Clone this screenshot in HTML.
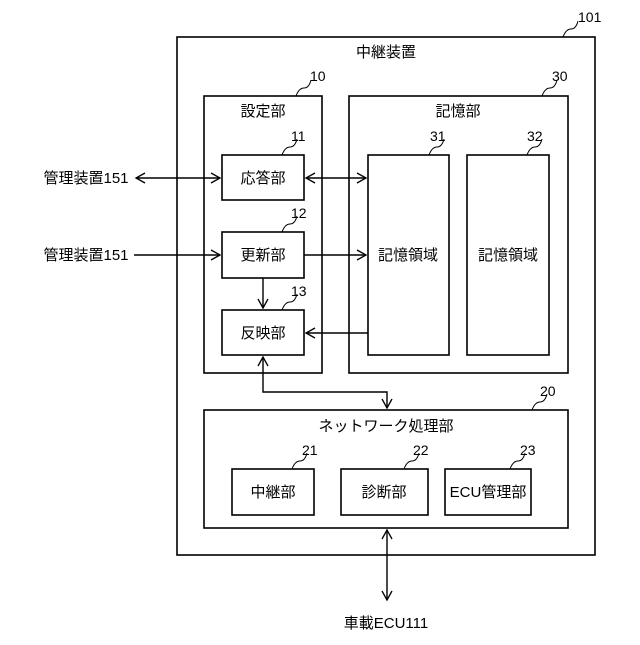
<!DOCTYPE html><html><head><meta charset="utf-8"><style>body{margin:0;background:#fff}</style></head><body>
<svg width="640" height="640" xmlns="http://www.w3.org/2000/svg" font-family="Liberation Sans, Noto Sans CJK JP, sans-serif" font-size="14">
<defs><marker id="a" markerWidth="12" markerHeight="12" refX="10" refY="6" orient="auto-start-reverse" markerUnits="userSpaceOnUse"><path d="M1,1 L10,6 L1,11" fill="none" stroke="#000" stroke-width="1.3"/></marker></defs>
<g fill="none" stroke="#000" stroke-width="1.6">
<rect x="177" y="37" width="418" height="518"/>
<rect x="204" y="96" width="118" height="277"/>
<rect x="222" y="155" width="82" height="45"/>
<rect x="222" y="232" width="82" height="46"/>
<rect x="222" y="310" width="82" height="45"/>
<rect x="349" y="96" width="219" height="277"/>
<rect x="368" y="155" width="81" height="200"/>
<rect x="467" y="155" width="82" height="200"/>
<rect x="204" y="410" width="364" height="118"/>
<rect x="232" y="469" width="82" height="46"/>
<rect x="341" y="469" width="87" height="46"/>
<rect x="445" y="469" width="86" height="46"/>
</g>
<g fill="none" stroke="#000" stroke-width="1.4">
<line x1="136" y1="178" x2="220" y2="178" marker-start="url(#a)" marker-end="url(#a)"/>
<line x1="134" y1="255" x2="220" y2="255" marker-end="url(#a)"/>
<line x1="306" y1="178" x2="366" y2="178" marker-start="url(#a)" marker-end="url(#a)"/>
<line x1="304" y1="255" x2="366" y2="255" marker-end="url(#a)"/>
<line x1="368" y1="333" x2="306" y2="333" marker-end="url(#a)"/>
<line x1="263" y1="278" x2="263" y2="308" marker-end="url(#a)"/>
<polyline points="263,357 263,392 387,392 387,408" marker-start="url(#a)" marker-end="url(#a)"/>
<line x1="387" y1="530" x2="387" y2="600" marker-start="url(#a)" marker-end="url(#a)"/>
</g>
<g fill="none" stroke="#000" stroke-width="1">
<path d="M563,37 q3,-8 8,-8 q5,0 7,-8"/>
<path d="M296,96 q3,-8 8,-8 q5,0 7,-8"/>
<path d="M542,96 q3,-8 8,-8 q5,0 7,-8"/>
<path d="M282,155 q3,-8 8,-8 q5,0 7,-8"/>
<path d="M282,232 q3,-8 8,-8 q5,0 7,-8"/>
<path d="M282,310 q3,-8 8,-8 q5,0 7,-8"/>
<path d="M429,155 q3,-8 8,-8 q5,0 7,-8"/>
<path d="M527,155 q3,-8 8,-8 q5,0 7,-8"/>
<path d="M532,410 q3,-8 8,-8 q5,0 7,-8"/>
<path d="M292,469 q3,-8 8,-8 q5,0 7,-8"/>
<path d="M404,469 q3,-8 8,-8 q5,0 7,-8"/>
<path d="M510,469 q3,-8 8,-8 q5,0 7,-8"/>
</g>
<g fill="#000">
<text x="578" y="22">101</text>
<text x="310" y="81">10</text>
<text x="552" y="81">30</text>
<text x="291" y="141">11</text>
<text x="291" y="218">12</text>
<text x="291" y="296">13</text>
<text x="430" y="141">31</text>
<text x="527" y="141">32</text>
<text x="540" y="396">20</text>
<text x="302" y="455">21</text>
<text x="413" y="455">22</text>
<text x="520" y="455">23</text>
<g text-anchor="middle" font-size="15">
<text x="386" y="57">中継装置</text>
<text x="263" y="116">設定部</text>
<text x="263" y="183">応答部</text>
<text x="263" y="260">更新部</text>
<text x="263" y="338">反映部</text>
<text x="458" y="116">記憶部</text>
<text x="408" y="260">記憶領域</text>
<text x="508" y="260">記憶領域</text>
<text x="386" y="431">ネットワーク処理部</text>
<text x="273" y="497">中継部</text>
<text x="384" y="497">診断部</text>
<text x="488" y="497">ECU管理部</text>
<text x="386" y="628">車載ECU111</text>
<text x="86" y="183">管理装置151</text>
<text x="86" y="260">管理装置151</text>
</g></g>
</svg></body></html>
